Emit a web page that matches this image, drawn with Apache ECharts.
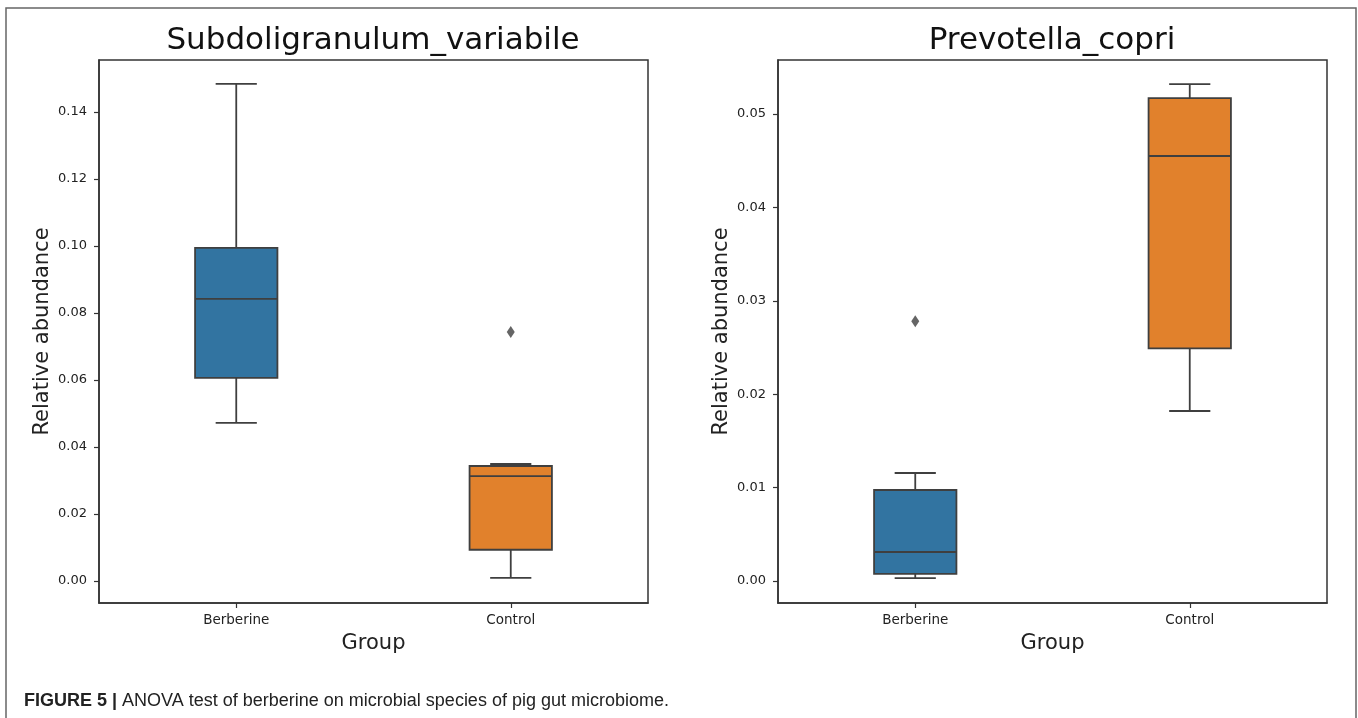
<!DOCTYPE html>
<html>
<head>
    <meta charset="utf-8">
    <title>ANOVA boxplots</title>
    <script src="https://cdn.jsdelivr.net/npm/echarts@6/dist/echarts.min.js"></script>
    <style>
        html, body { margin: 0; padding: 0; background: #fff; }
        #chart { width: 1358px; height: 718px; }
    </style>
</head>
<body>
<div id="chart"></div>
<script>
    // groups on the x axis
    var groups = ['Berberine', 'Control'];
    var boxColors = ['#3274a1', '#e1812c'];

    // [low whisker, Q1, median, Q3, high whisker] per group
    var subdoStats = [
        [0.0472, 0.0606, 0.0842, 0.0994, 0.1484],
        [0.0009, 0.0093, 0.0313, 0.0343, 0.0349]
    ];
    var subdoOutliers = [[1, 0.0743]];
    var subdoTicks = [0, 0.02, 0.04, 0.06, 0.08, 0.10, 0.12, 0.14];

    var prevoStats = [
        [0.0003, 0.00075, 0.0031, 0.00974, 0.01156],
        [0.0182, 0.0249, 0.0455, 0.0517, 0.0532]
    ];
    var prevoOutliers = [[0, 0.0278]];
    var prevoTicks = [0, 0.01, 0.02, 0.03, 0.04, 0.05];

    var lineCol = '#3f3f3f';
    var textCol = '#222';
    var frameCol = '#333';

    function boxData(stats) {
        return stats.map(function (s, i) { return [i].concat(s); });
    }

    function renderBox(params, api) {
        var i = api.value(0);
        var band = api.size([1, 0])[0];
        var w = band * 0.3;
        var cap = w / 4;
        var lo = api.coord([i, api.value(1)]);
        var q1 = api.coord([i, api.value(2)]);
        var md = api.coord([i, api.value(3)]);
        var q3 = api.coord([i, api.value(4)]);
        var hi = api.coord([i, api.value(5)]);
        var x = lo[0];
        var ls = {stroke: lineCol, lineWidth: 1.8};
        return {
            type: 'group',
            children: [
                {type: 'line', shape: {x1: x, y1: q3[1], x2: x, y2: hi[1]}, style: ls},
                {type: 'line', shape: {x1: x, y1: q1[1], x2: x, y2: lo[1]}, style: ls},
                {type: 'line', shape: {x1: x - cap, y1: hi[1], x2: x + cap, y2: hi[1]}, style: ls},
                {type: 'line', shape: {x1: x - cap, y1: lo[1], x2: x + cap, y2: lo[1]}, style: ls},
                {type: 'rect', shape: {x: x - w / 2, y: q3[1], width: w, height: q1[1] - q3[1]},
                    style: {fill: boxColors[i], stroke: lineCol, lineWidth: 1.8}},
                {type: 'line', shape: {x1: x - w / 2, y1: md[1], x2: x + w / 2, y2: md[1]}, style: ls}
            ]
        };
    }

    function xAxisFor(gi) {
        return {
            type: 'category', gridIndex: gi, data: groups,
            name: 'Group', nameLocation: 'middle', nameGap: 30,
            nameTextStyle: {fontFamily: 'DejaVu Sans', fontSize: 21, color: textCol},
            axisLine: {show: true, onZero: false, lineStyle: {color: frameCol, width: 1.5}},
            axisTick: {show: true, alignWithLabel: true, length: 5, lineStyle: {color: frameCol, width: 1.2}},
            axisLabel: {fontFamily: 'DejaVu Sans', fontSize: 13.5, color: textCol, margin: 10},
            splitLine: {show: false}
        };
    }

    function yAxisFor(gi, min, max, ticks) {
        return {
            type: 'value', gridIndex: gi, min: min, max: max,
            name: 'Relative abundance', nameLocation: 'middle', nameGap: 46,
            nameTextStyle: {fontFamily: 'DejaVu Sans', fontSize: 21, color: textCol},
            axisLine: {show: true, lineStyle: {color: frameCol, width: 1.5}},
            axisTick: {show: true, length: 5, customValues: ticks, lineStyle: {color: frameCol, width: 1.2}},
            axisLabel: {
                customValues: ticks, fontFamily: 'DejaVu Sans', fontSize: 13, color: textCol, margin: 12,
                formatter: function (v) { return v.toFixed(2); }
            },
            splitLine: {show: false}
        };
    }

    var chart = echarts.init(document.getElementById('chart'));
    chart.setOption({
        animation: false,
        backgroundColor: '#fff',
        grid: [
            {left: 99, top: 60, width: 549, height: 543, show: true, borderColor: frameCol, borderWidth: 1.5},
            {left: 778, top: 60, width: 549, height: 543, show: true, borderColor: frameCol, borderWidth: 1.5}
        ],
        xAxis: [xAxisFor(0), xAxisFor(1)],
        yAxis: [
            yAxisFor(0, -0.0066, 0.1555, subdoTicks),
            yAxisFor(1, -0.00236, 0.05578, prevoTicks)
        ],
        graphic: [
            {type: 'rect', shape: {x: 6, y: 8, width: 1350, height: 730},
                style: {fill: null, stroke: '#666', lineWidth: 1.5}, silent: true},
            {type: 'text', x: 373, y: 41, style: {text: 'Subdoligranulum_variabile', fontFamily: 'DejaVu Sans',
                    fontSize: 31, fill: '#111', align: 'center', verticalAlign: 'middle'}},
            {type: 'text', x: 1052, y: 41, style: {text: 'Prevotella_copri', fontFamily: 'DejaVu Sans',
                    fontSize: 31, fill: '#111', align: 'center', verticalAlign: 'middle'}},
            {type: 'text', x: 24, y: 701, style: {
                    text: '{b|FIGURE 5 |} ANOVA test of berberine on microbial species of pig gut microbiome.',
                    fontFamily: 'Liberation Sans', fontSize: 18, fill: '#222',
                    verticalAlign: 'middle',
                    rich: {b: {fontFamily: 'Liberation Sans', fontSize: 18,
                            fontWeight: 'bold', fill: '#222'}}
                }}
        ],
        series: [
            {type: 'custom', xAxisIndex: 0, yAxisIndex: 0, data: boxData(subdoStats),
                encode: {x: 0, y: [1, 2, 3, 4, 5]}, renderItem: renderBox},
            {type: 'custom', xAxisIndex: 1, yAxisIndex: 1, data: boxData(prevoStats),
                encode: {x: 0, y: [1, 2, 3, 4, 5]}, renderItem: renderBox},
            {type: 'scatter', xAxisIndex: 0, yAxisIndex: 0, data: subdoOutliers,
                symbol: 'diamond', symbolSize: [8, 12], itemStyle: {color: lineCol}},
            {type: 'scatter', xAxisIndex: 1, yAxisIndex: 1, data: prevoOutliers,
                symbol: 'diamond', symbolSize: [8, 12], itemStyle: {color: lineCol}}
        ]
    });
</script>
</body>
</html>
